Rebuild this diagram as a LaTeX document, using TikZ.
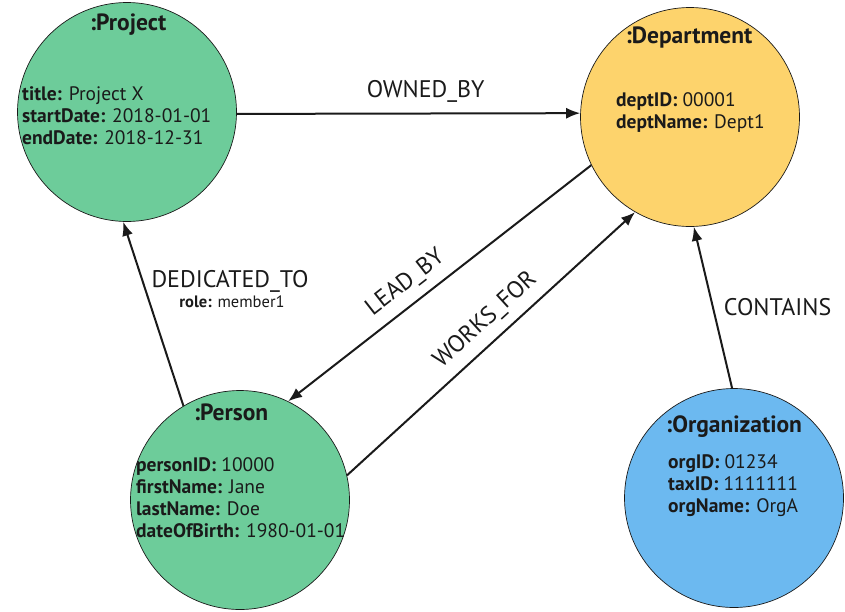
\documentclass[tikz,border=0pt]{standalone}
\usepackage{fontspec}
\setmainfont{PT Sans}
\usetikzlibrary{arrows.meta}
\definecolor{pgreen}{HTML}{6DCC9A}
\definecolor{dyellow}{HTML}{FDD36C}
\definecolor{oblue}{HTML}{6CB9F0}
\definecolor{ink}{HTML}{1A1A1A}
\begin{document}
\begin{tikzpicture}[x=1pt,y=-1pt,
  entity/.style={circle, draw=ink, line width=0.7pt, minimum size=219pt, inner sep=0pt},
  etitle/.style={font=\fontsize{23.5}{27}\selectfont\bfseries, text=ink, inner sep=0pt},
  attrs/.style={font=\fontsize{19.5}{22}\selectfont, text=ink, align=left, anchor=north west, inner sep=0pt},
  rel/.style={-{Latex[length=14pt,width=11pt]}, line width=2pt, draw=ink},
  rlabel/.style={font=\fontsize{24}{28}\selectfont, text=ink, inner sep=0pt}
]
\useasboundingbox (0,0) rectangle (845,611);
\node[entity, fill=pgreen] (proj) at (127,112) {};
\node[entity, fill=dyellow] (dept) at (690,117) {};
\node[entity, fill=pgreen] (pers) at (240,500) {};
\node[entity, fill=oblue] (org) at (734,498) {};

\node[etitle] (projT) at (128,25) {:Project};
\node[etitle] (deptT) at (689,38) {:Department};
\node[etitle] (persT) at (231,412) {:Person};
\node[etitle] (orgT) at (734,427) {:Organization};

\node[attrs] (projA) at (22,86) {\textbf{title:} Project X\\\textbf{startDate:} 2018-01-01\\\textbf{endDate:} 2018-12-31};
\node[attrs] (deptA) at (616,92) {\textbf{deptID:} 00001\\\textbf{deptName:} Dept1};
\node[attrs] (persA) at (136,457) {\textbf{personID:} 10000\\\textbf{firstName:} Jane\\\textbf{lastName:} Doe\\\textbf{dateOfBirth:} 1980-01-01};
\node[attrs] (orgA) at (668,454) {\textbf{orgID:} 01234\\\textbf{taxID:} 1111111\\\textbf{orgName:} OrgA};

\draw[rel] (proj.-1) -- (dept.178) node[rlabel, pos=0.55, above=10pt] (ownedL) {OWNED\_BY};
\draw[rel] (pers.121) -- (proj.268);
\node[rlabel] (dedL) at (230,281) {DEDICATED\_TO};
\node[font=\fontsize{16.5}{20}\selectfont, text=ink, inner sep=0pt] (roleL) at (232,302) {\textbf{role:} member1};
\draw[rel] (dept.206) -- (pers.64) node[rlabel, pos=0.57, sloped, above=9pt] (leadL) {LEAD\_BY};
\draw[rel] (pers.13) -- (dept.240) node[rlabel, pos=0.53, sloped, above=9pt] (worksL) {WORKS\_FOR};
\draw[rel] (org.91) -- (dept.-88) node[rlabel, pos=0.5, right=10pt] (contL) {CONTAINS};
\end{tikzpicture}
\end{document}
